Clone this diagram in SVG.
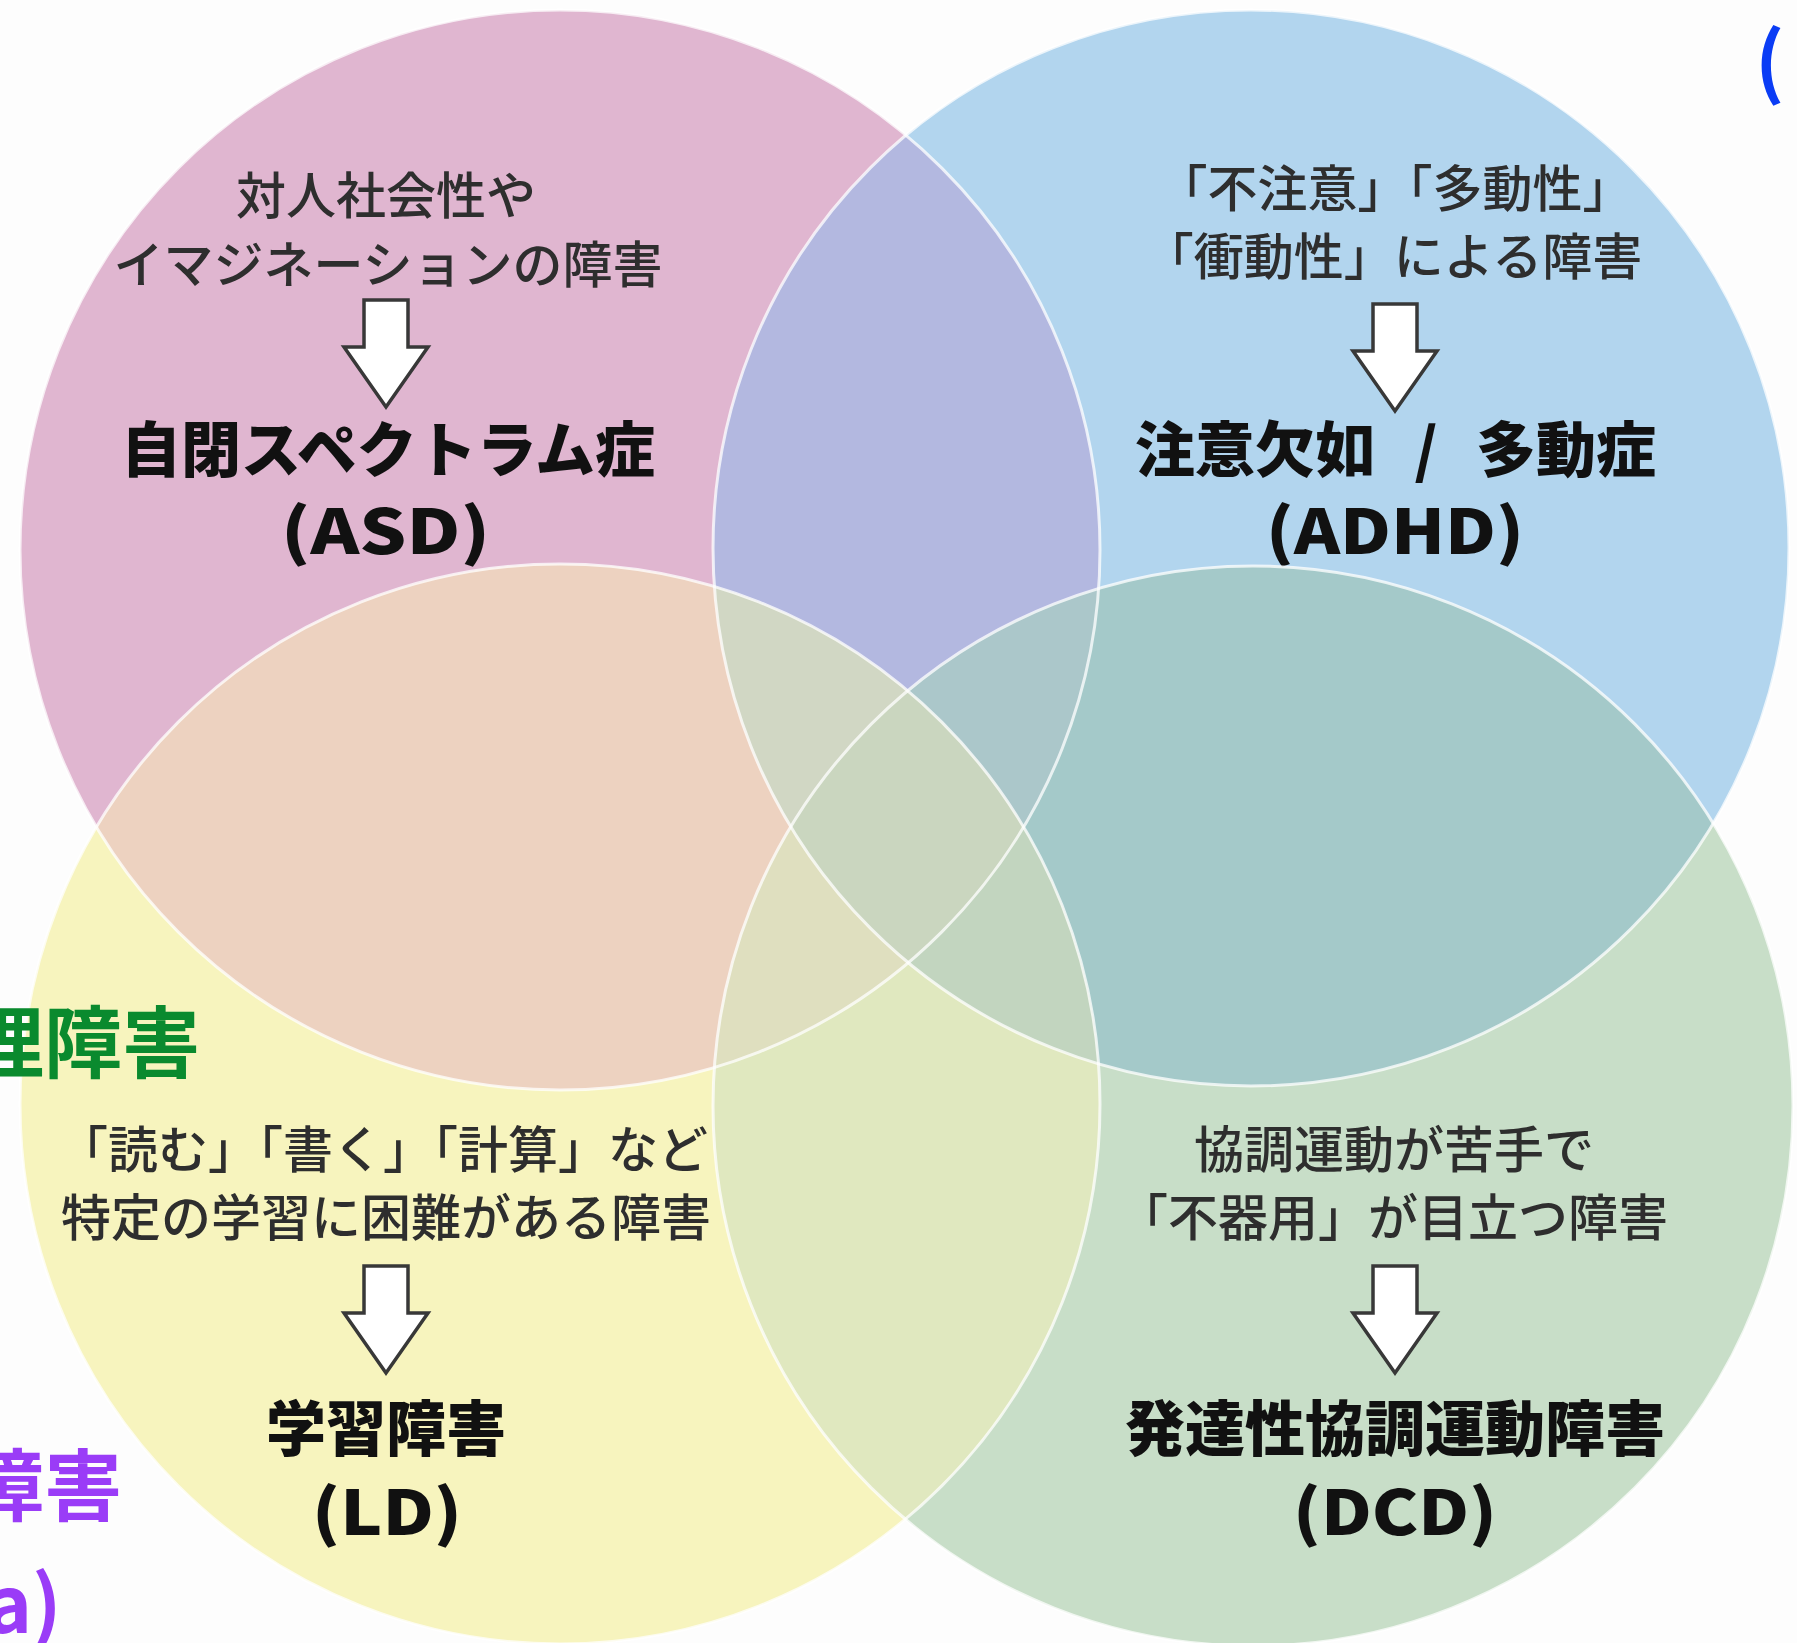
<svg xmlns="http://www.w3.org/2000/svg" width="1797" height="1643" viewBox="0 0 1797 1643">
<style>
.t{font-family:"Noto Sans CJK JP","Noto Sans CJK SC",sans-serif;font-size:50px;fill:#2e2e2e;text-anchor:middle;font-weight:500}
.b{font-family:"Noto Sans CJK JP","Noto Sans CJK SC",sans-serif;font-size:60px;fill:#111111;text-anchor:middle;font-weight:900}
.p{font-family:"Noto Sans CJK JP","Noto Sans CJK SC",sans-serif;font-size:62px;fill:#111111;font-weight:900}
.s{font-family:"Noto Sans CJK JP","Noto Sans CJK SC","Noto Sans",sans-serif;font-size:78px;font-weight:700}
.arrow{fill:#ffffff;stroke:#383838;stroke-width:3.5;stroke-linejoin:miter}
.ol{fill:none;stroke:#ffffff;stroke-width:3;stroke-opacity:0.75}
</style>
<defs>
<path id="arr" d="M-22,0 H22 V47 H42 L0,107 L-42,47 H-22 Z"/>
<circle id="cirP" cx="560" cy="550" r="540"/>
<circle id="cirB" cx="1251" cy="548" r="538"/>
<circle id="cirY" cx="560" cy="1104" r="540"/>
<circle id="cirG" cx="1253" cy="1106" r="540"/>
<clipPath id="kP"><use href="#cirP"/></clipPath>
<clipPath id="kB"><use href="#cirB"/></clipPath>
<clipPath id="kY"><use href="#cirY"/></clipPath>
<clipPath id="kG"><use href="#cirG"/></clipPath>
</defs>
<rect x="0" y="0" width="1797" height="1643" fill="#fdfdfd"/>
<g id="node-asd">
<use href="#cirP" fill="#e0b6d0"/>
<text class="t" x="386" y="214">対人社会性や</text>
<text class="t" x="388" y="283">イマジネーションの障害</text>
<text class="b" x="388" y="472">自閉スペクトラム症</text>
<text class="p" x="281" y="554" textLength="209" lengthAdjust="spacingAndGlyphs">(ASD)</text>
</g>
<g id="node-adhd">
<use href="#cirB" fill="#b2d5ee"/>
<text class="t" x="1395" y="207">「不注意」「多動性」</text>
<text class="t" x="1393" y="275">「衝動性」による障害</text>
<text class="b" x="1255" y="472">注意欠如</text>
<text class="b" x="1426" y="472">/</text>
<text class="b" x="1566" y="472">多動症</text>
<text class="p" x="1266" y="554" textLength="258" lengthAdjust="spacingAndGlyphs">(ADHD)</text>
</g>
<g id="node-ld">
<use href="#cirY" fill="#f7f4be"/>
<text class="t" x="383" y="1168">「読む」「書く」「計算」など</text>
<text class="t" x="386" y="1236">特定の学習に困難がある障害</text>
<text class="b" x="386" y="1451">学習障害</text>
<text class="p" x="312" y="1535" textLength="150" lengthAdjust="spacingAndGlyphs">(LD)</text>
</g>
<g id="node-dcd">
<use href="#cirG" fill="#c8dec8"/>
<text class="t" x="1394" y="1168">協調運動が苦手で</text>
<text class="t" x="1393" y="1236">「不器用」が目立つ障害</text>
<text class="b" x="1395" y="1451">発達性協調運動障害</text>
<text class="p" x="1293" y="1535" textLength="204" lengthAdjust="spacingAndGlyphs">(DCD)</text>
</g>
<g id="overlaps">
<g clip-path="url(#kP)"><use href="#cirB" fill="#b3b8e0"/></g>
<g clip-path="url(#kP)"><use href="#cirY" fill="#edd2c0"/></g>
<g clip-path="url(#kP)"><use href="#cirG" fill="#d8cfc6"/></g>
<g clip-path="url(#kB)"><use href="#cirY" fill="#cfdcc9"/></g>
<g clip-path="url(#kB)"><use href="#cirG" fill="#a4c9c9"/></g>
<g clip-path="url(#kY)"><use href="#cirG" fill="#e0e8bf"/></g>
<g clip-path="url(#kP)"><g clip-path="url(#kB)"><use href="#cirY" fill="#d1d7c4"/></g></g>
<g clip-path="url(#kP)"><g clip-path="url(#kB)"><use href="#cirG" fill="#abc7ca"/></g></g>
<g clip-path="url(#kP)"><g clip-path="url(#kY)"><use href="#cirG" fill="#dfdfbf"/></g></g>
<g clip-path="url(#kB)"><g clip-path="url(#kY)"><use href="#cirG" fill="#c2d5bf"/></g></g>
<g clip-path="url(#kP)"><g clip-path="url(#kB)"><g clip-path="url(#kY)"><use href="#cirG" fill="#cad6bf"/></g></g></g>
<use href="#cirP" class="ol"/>
<use href="#cirB" class="ol"/>
<use href="#cirY" class="ol"/>
<use href="#cirG" class="ol"/>
</g>
<g id="connectors">
<use href="#arr" class="arrow" transform="translate(386,300)"/>
<use href="#arr" class="arrow" transform="translate(1395,304)"/>
<use href="#arr" class="arrow" transform="translate(386,1266)"/>
<use href="#arr" class="arrow" transform="translate(1395,1266)"/>
</g>
<g id="side-labels">
<text class="s" x="1755" y="90" fill="#0a3cf5">(</text>
<text class="s" x="-34" y="1072" fill="#0a8a2e">理障害</text>
<text class="s" x="-34" y="1515" fill="#9a3cf7">障害</text>
<text class="s" x="-14" y="1633" fill="#9a3cf7">a)</text>
</g>
</svg>
